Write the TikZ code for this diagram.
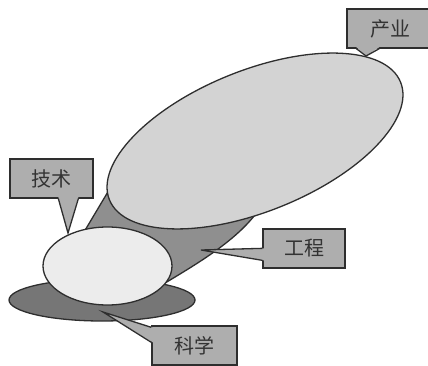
\documentclass[tikz,border=0pt]{standalone}
\usepackage{fontspec}
\newfontfamily\cjk{Noto Sans CJK SC}
\usetikzlibrary{shapes.geometric,calc}
\definecolor{linec}{HTML}{2E2E2E}
\definecolor{textc}{HTML}{333333}
\definecolor{boxgray}{HTML}{AEAEAE}
\definecolor{bigfill}{HTML}{D3D3D3}
\definecolor{smallfill}{HTML}{ECECEC}
\definecolor{engfill}{HTML}{8F8F8F}
\definecolor{scifill}{HTML}{767676}
\tikzset{
  blob/.style={ellipse, draw=linec, line width=1.3pt, inner sep=0pt},
  callbox/.style={draw=linec, line width=1.3pt, fill=boxgray, inner sep=0pt,
    minimum height=39pt, font=\cjk\fontsize{20}{20}\selectfont, text=textc},
  ptrfill/.style={fill=boxgray},
  ptrline/.style={draw=linec, line width=1.3pt, line join=miter}
}
\begin{document}
\begin{tikzpicture}[x=1pt,y=-1pt]
\useasboundingbox (0,0) rectangle (428,366);
\clip (0,0) rectangle (428,366);
\fill[white] (0,0) rectangle (428,366);
% science ellipse
\node[blob, fill=scifill, minimum width=186pt, minimum height=42pt] (sci) at (102,300) {};
% engineering shape
\draw[fill=engfill, draw=linec, line width=1.3pt, line join=round]
  (115,180) -- (84,232) -- (140,285) -- (150,292)
  .. controls (195,265) and (240,240) .. (262,205) -- (200,165) -- cycle;
\coordinate (engc) at (200,250);
% industry ellipse
\node[blob, fill=bigfill, minimum width=314pt, minimum height=141pt, rotate=22] (ind) at (255,141) {};
% technology ellipse
\node[blob, fill=smallfill, minimum width=129pt, minimum height=78pt] (tech) at (107.5,266) {};

% callouts
\node[callbox, minimum width=86pt] (lind) at (390,28.5) {产业};
\node[callbox, minimum width=83pt] (ltech) at (51.5,178.5) {技术};
\node[callbox, minimum width=82pt] (leng) at (304,248.5) {工程};
\node[callbox, minimum width=85pt] (lsci) at (194.5,345.5) {科学};

\coordinate (tind) at (366,56);
\coordinate (ttech) at (68,233);
\coordinate (teng) at (201,250);
\coordinate (tsci) at (103,312);

% industry pointer
\fill[ptrfill] ($(lind.south west)+(10,-1.5)$) -- (tind) -- ($(lind.south west)+(33,-1.5)$) -- cycle;
\draw[ptrline] ($(lind.south west)+(10,0)$) -- (tind) -- ($(lind.south west)+(33,0)$);
% technology pointer
\fill[ptrfill] ($(ltech.south west)+(49,-1.5)$) -- (ttech) -- ($(ltech.south west)+(69,-1.5)$) -- cycle;
\draw[ptrline] ($(ltech.south west)+(49,0)$) -- (ttech) -- ($(ltech.south west)+(69,0)$);
% engineering pointer
\fill[ptrfill] ($(leng.north west)+(1.5,20)$) -- (teng) -- ($(leng.north west)+(1.5,32)$) -- cycle;
\draw[ptrline] ($(leng.north west)+(0,20)$) -- (teng) -- ($(leng.north west)+(0,32)$);
% science pointer
\fill[ptrfill] ($(lsci.north west)+(1.5,2)$) -- (tsci) -- ($(lsci.north west)+(1.5,17)$) -- cycle;
\draw[ptrline] ($(lsci.north west)+(0,2)$) -- (tsci) -- ($(lsci.north west)+(0,17)$);
\end{tikzpicture}
\end{document}
